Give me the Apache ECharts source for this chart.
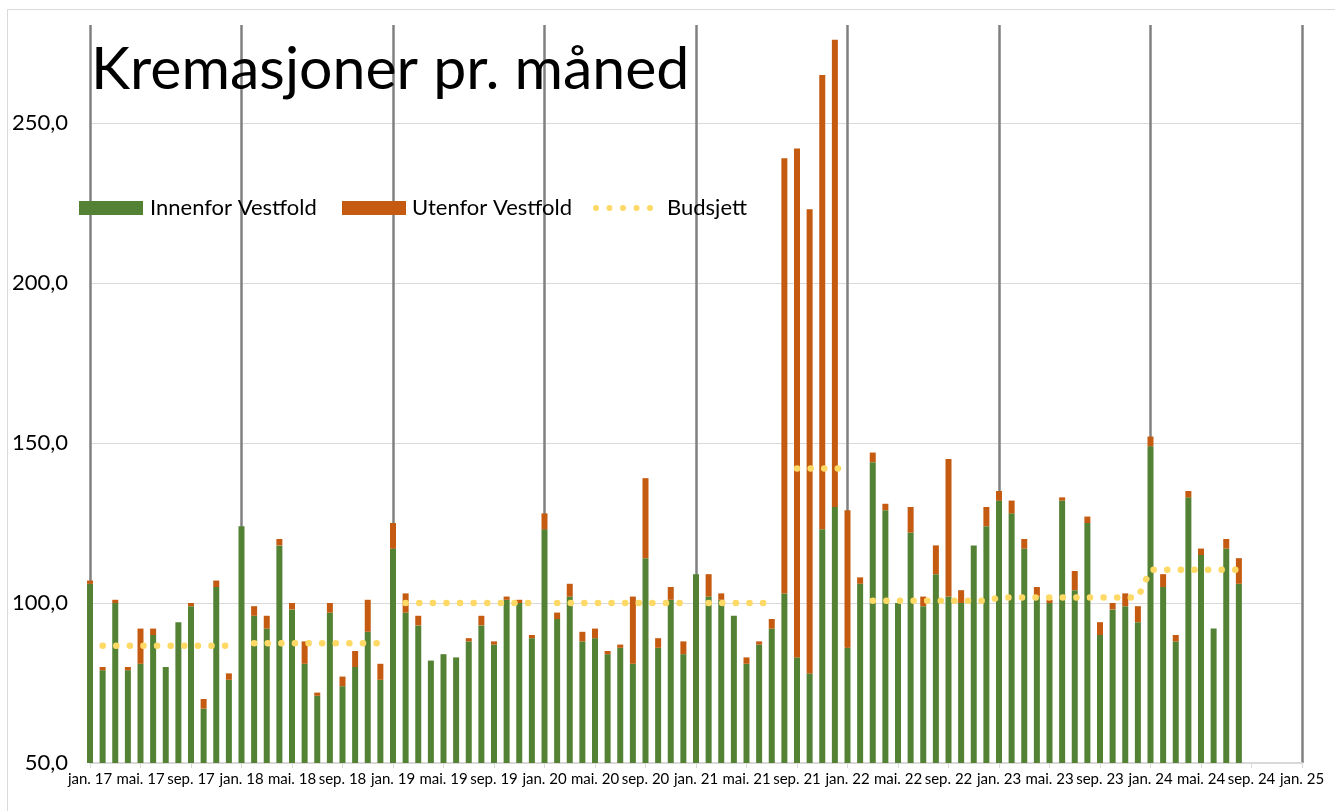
<!DOCTYPE html>
<html>
<head>
<meta charset="utf-8">
<script src="https://cdn.jsdelivr.net/npm/echarts@6/dist/echarts.min.js"></script>
<style>
html,body{margin:0;padding:0;background:#fff;}
#c{width:1335px;height:811px;}
</style>
</head>
<body>
<div id="c"></div>
<script>
// Monthly data, jan. 17 .. aug. 24
const innenfor = [
  106,79,100,79,81,90,80,94,99,67,105,76,
  124,96,92,118,98,81,71,97,74,80,91,76,
  117,97,93,82,84,83,88,93,87,101,100,89,
  123,95,102,88,89,84,86,81,114,86,101,84,
  109,102,101,96,81,87,92,103,83,78,123,130,
  86,106,144,129,100,122,99,109,102,100,118,124,
  132,128,117,102,100,132,104,125,90,98,99,94,
  149,105,88,133,115,92,117,106
];
const utenfor = [
  1,1,1,1,11,2,0,0,1,3,2,2,
  0,3,4,2,2,7,1,3,3,5,10,5,
  8,6,3,0,0,0,1,3,1,1,1,1,
  5,2,4,3,3,1,1,21,25,3,4,4,
  0,7,2,0,2,1,3,136,159,145,142,146,
  43,2,3,2,0,8,3,9,43,4,0,6,
  3,4,3,3,1,1,6,2,4,2,4,5,
  3,4,2,2,2,0,3,8
];
const budsjett = [
  null,86.6,86.6,86.6,86.6,86.6,86.6,86.6,86.6,86.6,86.6,86.6,
  null,87.4,87.4,87.4,87.4,87.4,87.4,87.4,87.4,87.4,87.4,87.4,
  null,100,100,100,100,100,100,100,100,100,100,100,
  null,100,100,100,100,100,100,100,100,100,100,100,
  null,100,100,100,100,100,100,null,142,142,142,142,
  142,null,100.7,100.7,100.7,100.7,100.7,100.7,100.7,100.7,100.7,100.7,
  101.7,101.7,101.7,101.7,101.7,101.7,101.7,101.7,101.7,101.7,101.7,101.7,
  110.4,110.4,110.4,110.4,110.4,110.4,110.4,110.4
];
const tickLabels = [
  'jan. 17','mai. 17','sep. 17','jan. 18','mai. 18','sep. 18','jan. 19','mai. 19','sep. 19',
  'jan. 20','mai. 20','sep. 20','jan. 21','mai. 21','sep. 21','jan. 22','mai. 22','sep. 22',
  'jan. 23','mai. 23','sep. 23','jan. 24','mai. 24','sep. 24','jan. 25'
];
const seriesNames = ['Innenfor Vestfold','Utenfor Vestfold','Budsjett'];
const titleText = 'Kremasjoner pr. måned';

const FONT = 'Lato';
// one category per month, jan. 17 .. jan. 25
const months = [];
for (let i = 0; i <= (tickLabels.length - 1) * 4; i++) months.push(i % 4 === 0 ? tickLabels[i / 4] : '');

const dotsIcon = 'path://M0,3a3,3 0 1,0 6,0a3,3 0 1,0 -6,0Z M13.5,3a3,3 0 1,0 6,0a3,3 0 1,0 -6,0Z M27,3a3,3 0 1,0 6,0a3,3 0 1,0 -6,0Z M40.5,3a3,3 0 1,0 6,0a3,3 0 1,0 -6,0Z M54,3a3,3 0 1,0 6,0a3,3 0 1,0 -6,0Z';

const chart = echarts.init(document.getElementById('c'), null, {renderer: 'canvas'});
const legendBase = {
  orient: 'horizontal', top: 192, itemWidth: 64, itemHeight: 14,
  textStyle: {fontFamily: FONT, fontSize: 22, color: '#000', padding: [0, 0, 0, 2]}
};
chart.setOption({
  animation: false,
  backgroundColor: '#fff',
  textStyle: {fontFamily: FONT},
  title: {
    text: titleText, left: 86, top: 35,
    textStyle: {fontFamily: FONT, fontSize: 59, fontWeight: 'normal', color: '#000'}
  },
  graphic: [{
    type: 'rect', silent: true, z: -10,
    shape: {x: 7.5, y: 9.5, width: 1400, height: 900},
    style: {fill: null, stroke: '#d9d9d9', lineWidth: 1}
  }],
  legend: [
    Object.assign({}, legendBase, {left: 74, data: [{name: seriesNames[0], icon: 'rect'}]}),
    Object.assign({}, legendBase, {left: 337, textStyle: {fontFamily: FONT, fontSize: 22, color: '#000', padding: [0, 0, 0, 1]},
      data: [{name: seriesNames[1], icon: 'rect'}]}),
    Object.assign({}, legendBase, {left: 588, itemWidth: 60, itemHeight: 6,
      textStyle: {fontFamily: FONT, fontSize: 22, color: '#000', padding: [0, 0, 0, 9]},
      data: [{name: seriesNames[2], icon: dotsIcon}]})
  ],
  grid: {left: 90, right: 33, top: 25, bottom: 48, containLabel: false},
  xAxis: {
    type: 'category', data: months, boundaryGap: false,
    axisLine: {show: true, lineStyle: {color: '#d9d9d9', width: 2}},
    axisTick: {show: true, interval: i => i % 4 === 0, length: 5, lineStyle: {color: '#d9d9d9', width: 1}},
    axisLabel: {interval: i => i % 4 === 0, margin: 9, color: '#000', fontFamily: FONT, fontSize: 15},
    splitLine: {show: true, interval: i => i % 12 === 0, lineStyle: {color: '#808080', width: 2.5}}
  },
  yAxis: {
    type: 'value', min: 50, max: 280.6, interval: 50,
    axisLine: {show: false}, axisTick: {show: false},
    axisLabel: {
      margin: 22, color: '#000', fontFamily: FONT, fontSize: 22, showMaxLabel: false,
      formatter: v => (Math.abs(v % 50) < 1e-6 ? v.toFixed(1).replace('.', ',') : '')
    },
    splitLine: {show: true, lineStyle: {color: ['#d9d9d9','#d9d9d9','#d9d9d9','#d9d9d9','#d9d9d9','rgba(0,0,0,0)'], width: 1}}
  },
  series: [
    {name: seriesNames[0], type: 'bar', stack: 'tot', barWidth: 6, data: innenfor,
     itemStyle: {color: '#548235'}},
    {name: seriesNames[1], type: 'bar', stack: 'tot', barWidth: 6, data: utenfor,
     itemStyle: {color: '#c55a11'}},
    {name: seriesNames[2], type: 'line', data: budsjett, showSymbol: false, connectNulls: false,
     itemStyle: {color: '#ffd966'},
     lineStyle: {color: '#ffd966', width: 6.5, type: [0.1, 13.5], cap: 'round'}, z: 5}
  ]
});
</script>
</body>
</html>
